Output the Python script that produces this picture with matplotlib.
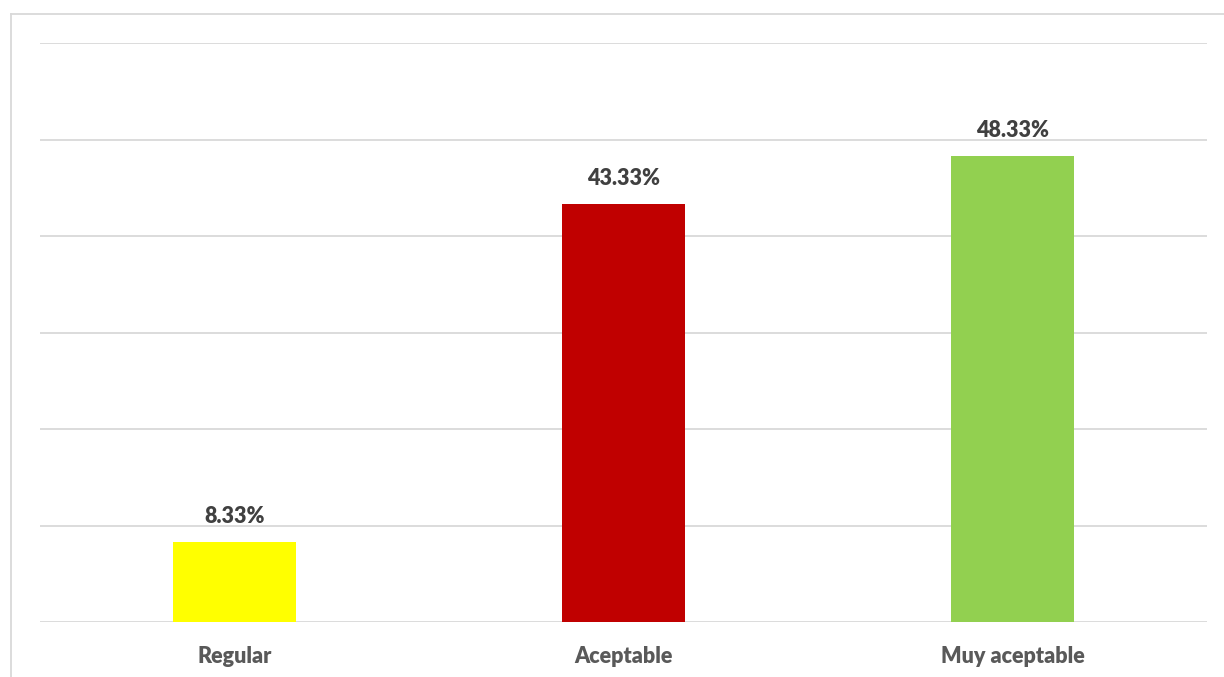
import matplotlib
matplotlib.use("Agg")
import matplotlib.pyplot as plt
from matplotlib.lines import Line2D

categories = ["Regular", "Aceptable", "Muy aceptable"]
values = [8.33, 43.33, 48.33]
labels = ["8.33%", "43.33%", "48.33%"]
colors = ["#FFFF00", "#C00000", "#92D050"]

plt.rcParams['font.family'] = ['Lato', 'DejaVu Sans']

fig = plt.figure(figsize=(12.24, 6.77), dpi=100)
W, H = 1224, 677
ax = fig.add_axes([40 / W, 1 - 622 / H, (1207 - 40) / W, (622 - 43) / H])

x = list(range(len(categories)))
ax.bar(x, values, width=0.314, color=colors, zorder=3)
ax.set_xlim(-0.5, len(categories) - 0.5)
ax.set_ylim(0, 60)
ax.set_yticks(range(0, 61, 10))
ax.yaxis.grid(True, color="#D9D9D9", linewidth=1.3, zorder=0)
ax.tick_params(axis='y', left=False, labelleft=False)
ax.tick_params(axis='x', bottom=False, pad=14)
ax.set_xticks(x)
ax.set_xticklabels(categories, fontsize=15.5, fontweight='heavy', color="#595959")
for s in ax.spines.values():
    s.set_visible(False)

for xi, v, lab in zip(x, values, labels):
    ax.annotate(lab, (xi, v), xytext=(0, 18), textcoords='offset points',
                ha='center', va='center', fontsize=15.5, fontweight='heavy', color="#404040")

border_color = "#D9D9D9"
fig.add_artist(Line2D([11 / W, 1.0], [1 - 13.5 / H, 1 - 13.5 / H], color=border_color, linewidth=1.3))
fig.add_artist(Line2D([11 / W, 11 / W], [0, 1 - 13.5 / H], color=border_color, linewidth=1.3))

fig.savefig("out.png", dpi=100, facecolor="white")
